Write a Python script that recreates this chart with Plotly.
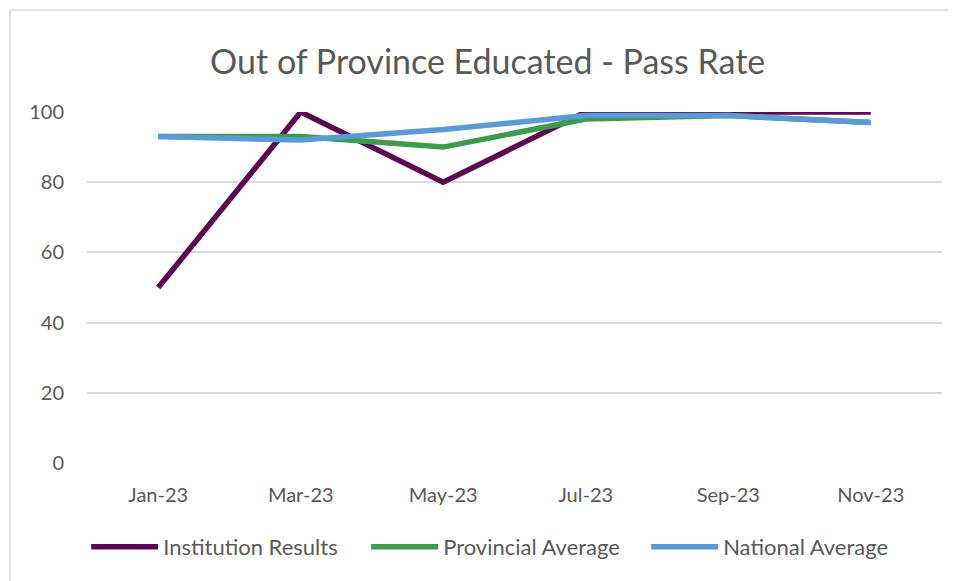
import plotly.graph_objects as go

months = ["Jan-23", "Mar-23", "May-23", "Jul-23", "Sep-23", "Nov-23"]
institution = [50, 100, 80, 100, 100, 100]
provincial = [93, 93, 90, 98, 99, 97]
national = [93, 92, 95, 99, 99, 97]

txt = "#595959"
fnt = "Lato, Calibri, sans-serif"

fig = go.Figure()
fig.add_trace(go.Scatter(x=months, y=institution, mode="lines", name="Institution Results",
                         line=dict(color="#5B0A52", width=5.5)))
fig.add_trace(go.Scatter(x=months, y=provincial, mode="lines", name="Provincial Average",
                         line=dict(color="#3E9A4C", width=5.5)))
fig.add_trace(go.Scatter(x=months, y=national, mode="lines", name="National Average",
                         line=dict(color="#5B9BD5", width=5.5)))

# page body has an 8px margin, so the figure is a bit smaller than the window
fig.update_layout(
    width=948, height=573,
    margin=dict(l=79, r=14, t=104, b=118),
    paper_bgcolor="white", plot_bgcolor="white",
    font=dict(family=fnt, color=txt, size=20),
    title=dict(text="Out of Province Educated - Pass Rate", x=0.506, xanchor="center",
               y=0.905, yanchor="middle", font=dict(size=34, color=txt)),
    xaxis=dict(type="category", range=[-0.5, 5.5], showgrid=False, zeroline=False,
               showline=False, ticks="", ticklabelstandoff=18, tickfont=dict(size=20)),
    yaxis=dict(range=[0, 100], dtick=20, showgrid=True, gridcolor="#D9D9D9", gridwidth=1.5,
               zeroline=False, showline=False, ticks="", ticklabelstandoff=22,
               tickfont=dict(size=20)),
    legend=dict(orientation="h", x=-0.001, xanchor="left", y=-0.239, yanchor="middle",
                font=dict(size=22), itemwidth=67, entrywidth=198, entrywidthmode="pixels",
                tracegroupgap=0),
    showlegend=True,
    shapes=[
        dict(type="line", xref="paper", yref="paper", x0=-0.09, x1=1.05, y0=1.2906, y1=1.2906,
             line=dict(color="#D9D9D9", width=1.5)),
        dict(type="line", xref="paper", yref="paper", x0=-0.09, x1=-0.09, y0=1.2906, y1=-0.4,
             line=dict(color="#D9D9D9", width=1.5)),
    ],
)

fig.write_html("out.html")
